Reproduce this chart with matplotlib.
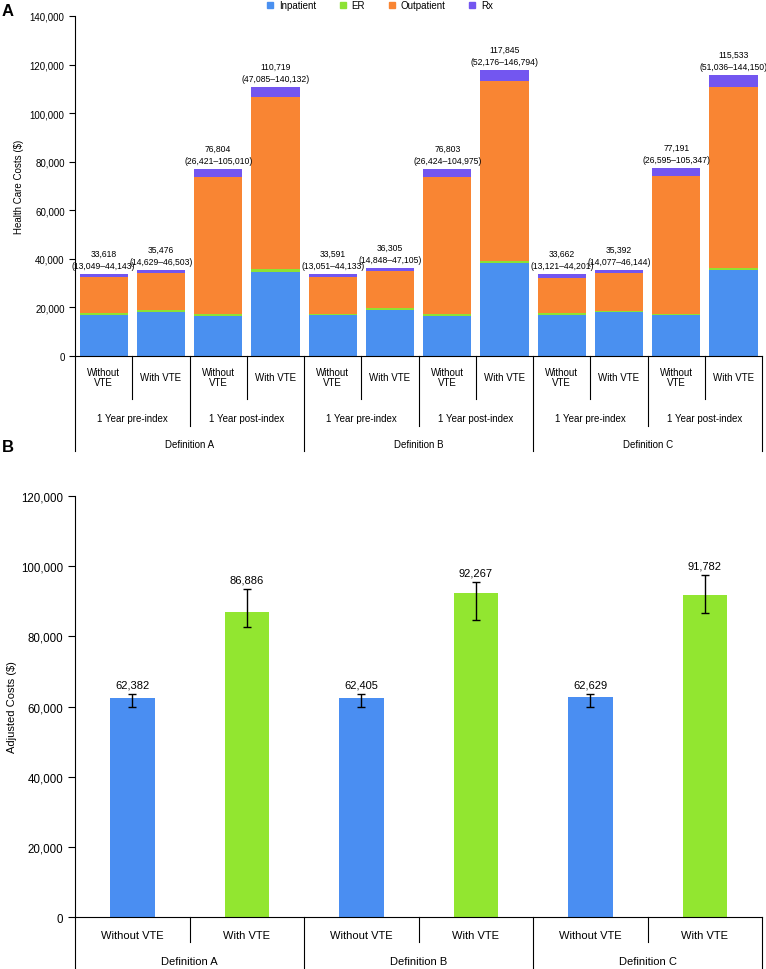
import matplotlib
matplotlib.use("Agg")
import matplotlib.pyplot as plt
from matplotlib.patches import Patch
import matplotlib.transforms as mtransforms
import numpy as np

plt.rcParams['font.family'] = ['Liberation Sans', 'DejaVu Sans']

# ---- Panel A data (thousands of $) ----
bar_labels_a = ["Without\nVTE", "With VTE"] * 6
period_labels = ["1 Year pre-index", "1 Year post-index"] * 3
definitions = ["Definition A", "Definition B", "Definition C"]
components = ["Inpatient", "ER", "Outpatient", "Rx"]
inpatient = [16.8, 18.1, 16.4, 34.7, 16.8, 18.9, 16.4, 38.1, 17.0, 18.1, 16.7, 35.3]
er = [0.7, 0.7, 0.9, 1.3, 0.6, 0.7, 0.9, 1.2, 0.5, 0.5, 0.7, 1.1]
outpatient = [15.0, 15.2, 56.4, 70.6, 15.1, 15.2, 56.4, 73.9, 14.8, 15.4, 56.7, 74.3]
rx = [1.1, 1.5, 3.1, 4.1, 1.1, 1.5, 3.1, 4.6, 1.36, 1.4, 3.1, 4.8]
totals_a = [33618, 35476, 76804, 110719, 33591, 36305, 76803, 117845, 33662, 35392, 77191, 115533]
ci_a = ["13,049–44,143", "14,629–46,503", "26,421–105,010", "47,085–140,132",
        "13,051–44,133", "14,848–47,105", "26,424–104,975", "52,176–146,794",
        "13,121–44,201", "14,077–46,144", "26,595–105,347", "51,036–144,150"]

# ---- Panel B data ----
bar_labels_b = ["Without VTE", "With VTE"] * 3
adjusted = [62382, 86886, 62405, 92267, 62629, 91782]
ci_low_b = [60000, 82800, 60000, 84700, 60000, 86700]
ci_high_b = [63700, 93600, 63700, 95600, 63700, 97600]

colors_a = ["#4A90F0", "#8DE234", "#F98533", "#7356F0"]
colors_b = ["#4A8EF2", "#92E630"] * 3

fig = plt.figure(figsize=(7.66, 9.70), dpi=100)

# ================= Panel A =================
ax = fig.add_axes([0.098, 0.632, 0.897, 0.3505])
x = np.arange(len(totals_a))
series = [np.array(inpatient), np.array(er), np.array(outpatient), np.array(rx)]
bottom = np.zeros(len(x))
for vals, col in zip(series, colors_a):
    ax.bar(x, vals * 1000, bottom=bottom, width=0.84, color=col, linewidth=0)
    bottom += vals * 1000

for xi, tot, ci, top in zip(x, totals_a, ci_a, bottom):
    ax.annotate(f"{tot:,}\n({ci})", (xi, top), xytext=(0, 3), textcoords="offset points",
                ha="center", va="bottom", fontsize=6.2, linespacing=1.45)

ax.set_xlim(-0.5, len(x) - 0.5)
ax.set_ylim(0, 140000)
ax.set_yticks(np.arange(0, 140001, 20000))
ax.yaxis.set_major_formatter(matplotlib.ticker.FuncFormatter(lambda v, p: f"{int(v):,}"))
ax.tick_params(axis="y", labelsize=7, length=4, width=0.8)
ax.set_xticks([])
ax.spines["top"].set_visible(False)
ax.spines["right"].set_visible(False)
ax.set_ylabel("Health Care Costs ($)", fontsize=7, labelpad=4)

tr = mtransforms.blended_transform_factory(ax.transData, ax.transAxes)
for i, lab in enumerate(bar_labels_a):
    ax.text(i, -0.062, lab, transform=tr, ha="center", va="center", fontsize=7, linespacing=1.1)
for j, lab in enumerate(period_labels):
    ax.text(2 * j + 0.5, -0.182, lab, transform=tr, ha="center", va="center", fontsize=7)
for k, lab in enumerate(definitions):
    ax.text(4 * k + 1.5, -0.259, lab, transform=tr, ha="center", va="center", fontsize=7)
for b in np.arange(-0.5, len(x), 1.0):
    if (b + 0.5) % 4 == 0:
        depth = -0.279
    elif (b + 0.5) % 2 == 0:
        depth = -0.206
    else:
        depth = -0.126
    ax.plot([b, b], [0, depth], transform=tr, color="black", lw=0.8, clip_on=False)

handles = [Patch(color=c, label=n) for c, n in zip(colors_a, components)]
fig.legend(handles=handles, loc="center", bbox_to_anchor=(0.496, 0.9935), ncol=4, frameon=False,
           fontsize=7, handlelength=0.65, handleheight=0.65, columnspacing=2.4,
           handletextpad=0.6, borderpad=0, borderaxespad=0)
fig.text(0.002, 0.988, "A", fontsize=12, fontweight="bold", va="center", ha="left")

# ================= Panel B =================
bx = fig.add_axes([0.098, 0.0536, 0.897, 0.434])
xb = np.arange(len(adjusted))
adj = np.array(adjusted)
yerr = [adj - np.array(ci_low_b), np.array(ci_high_b) - adj]
bx.bar(xb, adj, width=0.39, color=colors_b, linewidth=0)
bx.errorbar(xb, adj, yerr=yerr, fmt="none", ecolor="black", elinewidth=1, capsize=3, capthick=1)
for xi, v, hi in zip(xb, adjusted, ci_high_b):
    bx.annotate(f"{v:,}", (xi, hi), xytext=(0, 3), textcoords="offset points",
                ha="center", va="bottom", fontsize=8)

bx.set_xlim(-0.5, len(xb) - 0.5)
bx.set_ylim(0, 120000)
bx.set_yticks(np.arange(0, 120001, 20000))
bx.yaxis.set_major_formatter(matplotlib.ticker.FuncFormatter(lambda v, p: f"{int(v):,}"))
bx.tick_params(axis="y", labelsize=8.3, length=5, width=0.8)
bx.set_xticks([])
bx.spines["top"].set_visible(False)
bx.spines["right"].set_visible(False)
bx.set_ylabel("Adjusted Costs ($)", fontsize=8, labelpad=3)

trb = mtransforms.blended_transform_factory(bx.transData, bx.transAxes)
for i, lab in enumerate(bar_labels_b):
    bx.text(i, -0.043, lab, transform=trb, ha="center", va="center", fontsize=8)
for k, lab in enumerate(definitions):
    bx.text(2 * k + 0.5, -0.105, lab, transform=trb, ha="center", va="center", fontsize=8)
for b in np.arange(-0.5, len(xb), 1.0):
    depth = -0.125 if (b + 0.5) % 2 == 0 else -0.059
    bx.plot([b, b], [0, depth], transform=trb, color="black", lw=0.8, clip_on=False)

fig.text(0.002, 0.539, "B", fontsize=12, fontweight="bold", va="center", ha="left")

fig.savefig("out.png", dpi=100)
